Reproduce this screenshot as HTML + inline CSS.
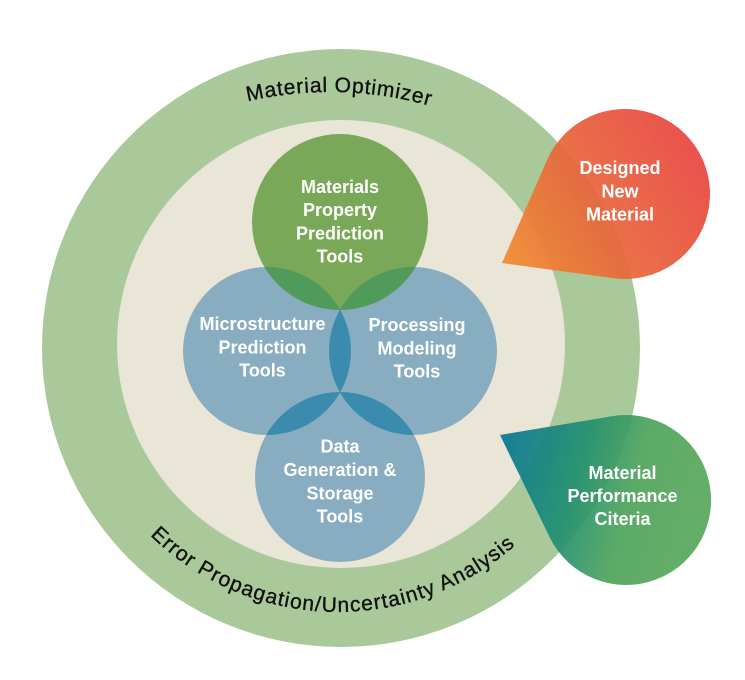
<!DOCTYPE html>
<html>
<head>
<meta charset="utf-8">
<style>
  html,body{margin:0;padding:0;background:#ffffff;}
  body{width:745px;height:680px;overflow:hidden;}
  svg{display:block;}
  .lbl{font-family:"Liberation Sans",Arial,sans-serif;font-weight:bold;font-size:18px;fill:#ffffff;text-anchor:middle;}
  .arc{font-family:"Liberation Sans",Arial,sans-serif;font-size:21px;fill:#111111;stroke:#111111;stroke-width:0.35px;}
</style>
</head>
<body>
<svg width="745" height="680" viewBox="0 0 745 680" xmlns="http://www.w3.org/2000/svg">
  <defs>
    <clipPath id="cG"><circle cx="340" cy="222" r="88"/></clipPath>
    <clipPath id="cL"><circle cx="267" cy="351" r="84"/></clipPath>
    <clipPath id="cR"><circle cx="413" cy="351" r="84"/></clipPath>
    <clipPath id="cB"><circle cx="340" cy="477" r="85"/></clipPath>
    <linearGradient id="gRed" gradientUnits="userSpaceOnUse" x1="505" y1="265" x2="700" y2="150">
      <stop offset="0" stop-color="#f28b30"/>
      <stop offset="0.45" stop-color="#e8673a"/>
      <stop offset="1" stop-color="#e84540"/>
    </linearGradient>
    <linearGradient id="gGreen" gradientUnits="userSpaceOnUse" x1="505" y1="450" x2="690" y2="500">
      <stop offset="0" stop-color="#07778f"/>
      <stop offset="0.4" stop-color="#22906f"/>
      <stop offset="0.7" stop-color="#4ea35a"/>
      <stop offset="1" stop-color="#55a75b"/>
    </linearGradient>
    <path id="topArc" d="M -38 460 A 368 368 0 0 1 698 460"/>
    <path id="botArc" d="M 69 343 A 269 269 0 0 0 607 343"/>
  </defs>

  <!-- Outer ring -->
  <circle cx="341" cy="348" r="299" fill="#aac99b"/>
  <!-- Inner beige -->
  <circle cx="341" cy="344" r="224" fill="#e9e5d7"/>

  <!-- Venn circles -->
  <circle cx="267" cy="351" r="84" fill="#88adc0"/>
  <circle cx="413" cy="351" r="84" fill="#88adc0"/>
  <circle cx="340" cy="477" r="85" fill="#88adc0"/>
  <circle cx="340" cy="222" r="88" fill="#79a859"/>

  <!-- Overlaps -->
  <circle cx="413" cy="351" r="84" fill="#3a8bae" clip-path="url(#cL)"/>
  <g clip-path="url(#cB)">
    <circle cx="267" cy="351" r="84" fill="#3a8bae"/>
    <circle cx="413" cy="351" r="84" fill="#3a8bae"/>
  </g>
  <g clip-path="url(#cG)">
    <circle cx="267" cy="351" r="84" fill="#509b5c"/>
    <circle cx="413" cy="351" r="84" fill="#509b5c"/>
  </g>

  <!-- Arc texts -->
  <text class="arc" style="letter-spacing:0.8px;">
    <textPath href="#topArc" startOffset="50.8%" text-anchor="middle">Material Optimizer</textPath>
  </text>
  <text class="arc" style="letter-spacing:1.1px;">
    <textPath href="#botArc" startOffset="49.2%" text-anchor="middle">Error Propagation/Uncertainty Analysis</textPath>
  </text>

  <!-- Node labels -->
  <text class="lbl" x="340" y="192.8">Materials</text>
  <text class="lbl" x="340" y="216.1">Property</text>
  <text class="lbl" x="340" y="239.4">Prediction</text>
  <text class="lbl" x="340" y="262.7">Tools</text>

  <text class="lbl" x="262.5" y="330">Microstructure</text>
  <text class="lbl" x="262.5" y="353.3">Prediction</text>
  <text class="lbl" x="262.5" y="376.6">Tools</text>

  <text class="lbl" x="417" y="331">Processing</text>
  <text class="lbl" x="417" y="354.3">Modeling</text>
  <text class="lbl" x="417" y="377.6">Tools</text>

  <text class="lbl" x="340" y="452.7">Data</text>
  <text class="lbl" x="340" y="476">Generation &amp;</text>
  <text class="lbl" x="340" y="499.3">Storage</text>
  <text class="lbl" x="340" y="522.6">Tools</text>

  <!-- Callouts -->
  <path d="M 502 263 L 547.1 159.9 A 85 85 0 1 1 613.5 278.2 Z" fill="url(#gRed)" opacity="0.93"/>
  <path d="M 500 435 L 611.9 416.2 A 85 85 0 1 1 549.6 537.1 Z" fill="url(#gGreen)" opacity="0.92"/>

  <text class="lbl" x="620" y="174">Designed</text>
  <text class="lbl" x="620" y="197.3">New</text>
  <text class="lbl" x="620" y="220.6">Material</text>

  <text class="lbl" x="622.5" y="479">Material</text>
  <text class="lbl" x="622.5" y="502">Performance</text>
  <text class="lbl" x="622.5" y="525">Citeria</text>
</svg>
</body>
</html>
